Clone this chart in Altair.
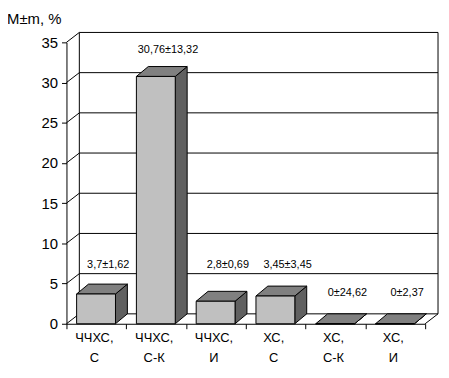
import altair as alt
import pandas as pd

# ---- data ----
categories = ["ЧЧХС,\nС", "ЧЧХС,\nС-К", "ЧЧХС,\nИ", "ХС,\nС", "ХС,\nС-К", "ХС,\nИ"]
values = [3.7, 30.76, 2.8, 3.45, 0.0, 0.0]
value_labels = ["3,7±1,62", "30,76±13,32", "2,8±0,69", "3,45±3,45", "0±24,62", "0±2,37"]
label_heights = [7.25, 34.1, 7.25, 7.25, 3.8, 3.8]
y_ticks = [0, 5, 10, 15, 20, 25, 30, 35]
y_title = "M±m, %"

# ---- geometry of the pseudo-3D drawing (in scale units) ----
N = len(categories)
W, H = 362, 284
Y_MAX = 35
px_x = W / N          # pixels per category
px_y = H / Y_MAX      # pixels per unit
BAR_L, BAR_R = 0.17, 0.82
DX_BAR, DY_BAR = 12 / px_x, 10 / px_y
DX_WALL, DY_WALL = 13 / px_x, 10 / px_y

FONT = "Liberation Sans"
xs = alt.Scale(domain=[0, N], nice=False, zero=False)
ys = alt.Scale(domain=[0, Y_MAX], nice=False, zero=False)
xax = alt.Axis(values=list(range(N + 1)), labels=False, tickSize=5, tickColor="black",
               domainColor="black", grid=False, title=None)
yax = alt.Axis(values=y_ticks, tickSize=5, labelFontSize=15, labelFont=FONT, labelColor="black",
               labelPadding=4, grid=False, title=None, domainColor="black", tickColor="black",
               format="d")

# walls
grid_df = pd.DataFrame({
    "x": [DX_WALL] * len(y_ticks),
    "x2": [N + DX_WALL] * len(y_ticks),
    "y": [t + DY_WALL for t in y_ticks],
    "y0": y_ticks,
    "xl": [0.0] * len(y_ticks),
    "xl2": [DX_WALL] * len(y_ticks),
})
vert_df = pd.DataFrame({
    "x": [DX_WALL, N + DX_WALL],
    "y": [DY_WALL, DY_WALL],
    "y2": [Y_MAX + DY_WALL, Y_MAX + DY_WALL],
})
floor_df = pd.DataFrame({"x": [N], "x2": [N + DX_WALL], "y": [0.0], "y2": [DY_WALL]})

# bars
front_rows, top_rows, side_rows, lab_rows = [], [], [], []
for i, (c, v, lab, lh) in enumerate(zip(categories, values, value_labels, label_heights)):
    front_rows.append({"cat": i, "x": i + BAR_L, "x2": i + BAR_R, "y": 0.0, "y2": v})
    top_rows.append({"cat": i, "y": v, "x": i + BAR_L, "x2": i + BAR_R})
    top_rows.append({"cat": i, "y": v + DY_BAR, "x": i + BAR_L + DX_BAR, "x2": i + BAR_R + DX_BAR})
    side_rows.append({"cat": i, "x": i + BAR_R, "y": 0.0, "y2": v})
    side_rows.append({"cat": i, "x": i + BAR_R + DX_BAR, "y": DY_BAR, "y2": v + DY_BAR})
    lab_rows.append({"cat": i, "x": i + 0.5, "lab": lab, "lh": lh, "name": c, "zero": 0.0})
front_df = pd.DataFrame(front_rows)
top_df = pd.DataFrame(top_rows)
side_df = pd.DataFrame(side_rows)
lab_df = pd.DataFrame(lab_rows)


def X(f, **kw):
    return alt.X(f, scale=xs, axis=xax, **kw)


def Y(f, **kw):
    return alt.Y(f, scale=ys, axis=yax, **kw)


back_grid = alt.Chart(grid_df).mark_rule(color="black", strokeWidth=1, clip=False).encode(
    x=X("x:Q"), x2="x2:Q", y=Y("y:Q"),
)
left_diag = alt.Chart(grid_df).mark_rule(color="black", strokeWidth=1, clip=False).encode(
    x=X("xl:Q"), x2="xl2:Q", y=Y("y0:Q"), y2="y:Q",
)
walls_v = alt.Chart(vert_df).mark_rule(color="black", strokeWidth=1, clip=False).encode(
    x=X("x:Q"), y=Y("y:Q"), y2="y2:Q",
)
floor_edge = alt.Chart(floor_df).mark_rule(color="black", strokeWidth=1, clip=False).encode(
    x=X("x:Q"), x2="x2:Q", y=Y("y:Q"), y2="y2:Q",
)

side = alt.Chart(side_df).mark_area(orient="vertical", fill="#606060", stroke="black",
                                    strokeWidth=1, clip=False, opacity=1).encode(
    x=X("x:Q"), y=Y("y:Q", stack=None), y2="y2:Q", detail="cat:N",
)
top = alt.Chart(top_df).mark_area(orient="horizontal", fill="#808080", stroke="black",
                                  strokeWidth=1, clip=False, opacity=1).encode(
    y=Y("y:Q"), x=X("x:Q", stack=None), x2="x2:Q", detail="cat:N",
)
front = alt.Chart(front_df).mark_rect(fill="#c0c0c0", stroke="black", strokeWidth=1, clip=False).encode(
    x=X("x:Q"), x2="x2:Q", y=Y("y:Q"), y2="y2:Q",
)

val_text = alt.Chart(lab_df).mark_text(font=FONT, fontSize=11, color="black", dx=12,
                                       baseline="middle", align="center", clip=False).encode(
    x=X("x:Q"), y=Y("lh:Q"), text="lab:N",
)
cat_text = alt.Chart(lab_df).mark_text(font=FONT, fontSize=13, color="black", dx=-2, dy=8,
                                       baseline="top", align="center", lineBreak="\n",
                                       lineHeight=21, clip=False).encode(
    x=X("x:Q"), y=Y("zero:Q"), text="name:N",
)
title_df = pd.DataFrame({"t": [y_title]})
title_text = alt.Chart(title_df).mark_text(font=FONT, fontSize=15, color="black", align="left",
                                           baseline="alphabetic").encode(
    x=alt.value(-60), y=alt.value(-19), text="t:N",
)

chart = alt.layer(
    back_grid, left_diag, walls_v, floor_edge, side, top, front, val_text, cat_text, title_text
).properties(
    width=W, height=H,
    autosize=alt.AutoSizeParams(type="none"),
    padding={"left": 59, "top": 33, "right": 16, "bottom": 45},
    background="white",
).configure_view(stroke=None)

chart.save("out.html", embed_options={"renderer": "svg", "actions": False})
